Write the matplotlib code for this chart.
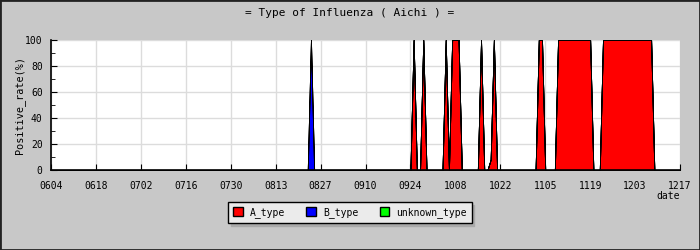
import matplotlib
matplotlib.use('Agg')
import matplotlib.pyplot as plt
from matplotlib.patches import Patch, Rectangle
import numpy as np

# day offsets from 06/04 (one point per day)
n_days = 197
tick_labels = ['0604', '0618', '0702', '0716', '0730', '0813', '0827', '0910',
               '0924', '1008', '1022', '1105', '1119', '1203', '1217']

# non-zero days of each series (all other days are 0)
a_days = [113, 116, 123, 125, 126, 127, 134, 137, 138, 152, 153,
          158, 159, 160, 161, 162, 163, 164, 165, 166, 167, 168,
          172, 173, 174, 175, 176, 177, 178, 179, 180, 181, 182, 183, 184, 185, 186, 187]
a_vals = [100, 100, 100, 100, 100, 100, 100, 8, 100, 100, 100,
          100, 100, 100, 100, 100, 100, 100, 100, 100, 100, 100,
          100, 100, 100, 100, 100, 100, 100, 100, 100, 100, 100, 100, 100, 100, 100, 100]
b_days = [81]
b_vals = [100]
unknown_days = []
unknown_vals = []

days = np.arange(n_days)
A_type = np.zeros(n_days)
A_type[a_days] = a_vals
B_type = np.zeros(n_days)
B_type[b_days] = b_vals
unknown_type = np.zeros(n_days)
unknown_type[unknown_days] = unknown_vals

names = ['A_type', 'B_type', 'unknown_type']
colors = ['#ff0000', '#0000ff', '#00ff00']

plt.rcParams['font.family'] = 'DejaVu Sans Mono'

fig = plt.figure(figsize=(7, 2.5), dpi=100)
fig.patch.set_facecolor('#c8c8c8')
ax = fig.add_axes([51/700, 1-170/250, 629/700, 130/250])
ax.set_facecolor('white')

ax.stackplot(days, A_type, B_type, unknown_type, colors=colors,
             edgecolor='black', linewidth=0.6)

ax.set_xlim(0, n_days - 1)
ax.set_ylim(0, 100)
ax.set_xticks(np.arange(0, n_days, 14))
ax.set_xticklabels(tick_labels)
ax.set_yticks(range(0, 101, 20))
ax.set_yticks(range(10, 100, 20), minor=True)
ax.grid(True, color='#dcdcdc', linewidth=1)
ax.set_axisbelow(True)
for s in ['top', 'right']:
    ax.spines[s].set_visible(False)
for s in ['left', 'bottom']:
    ax.spines[s].set_linewidth(1.2)
    ax.spines[s].set_zorder(5)
ax.tick_params(axis='x', direction='in', length=4, pad=8, labelsize=7)
ax.tick_params(axis='y', direction='in', length=4, pad=6, labelsize=7)
ax.tick_params(axis='y', which='minor', direction='in', length=3)

fig.text(0.5, 1-12.5/250, '= Type of Influenza ( Aichi ) =', ha='center', va='center', fontsize=8)
fig.text(20/700, 1-105/250, 'Positive_rate(%)', rotation=90, ha='center', va='center', fontsize=7.3)
fig.text(680/700, 1-196/250, 'date', ha='right', va='center', fontsize=7)

handles = [Patch(facecolor=c, edgecolor='black', label=n) for c, n in zip(colors, names)]
fig.legend(handles=handles, loc='center', bbox_to_anchor=(0.5, 1-212.5/250), ncol=3,
           fontsize=7, frameon=True, fancybox=False, edgecolor='black', facecolor='#ebebeb',
           framealpha=1, handlelength=1.0, handleheight=1.0, handletextpad=0.7,
           columnspacing=2.2, borderpad=0.5, borderaxespad=0,
           shadow={'color': '#aaaaaa', 'alpha': 1})

fig.patches.append(Rectangle((0, 0), 1, 1, transform=fig.transFigure, fill=False,
                             edgecolor='#222222', linewidth=2))

fig.savefig('out.png', dpi=100, facecolor=fig.get_facecolor())
